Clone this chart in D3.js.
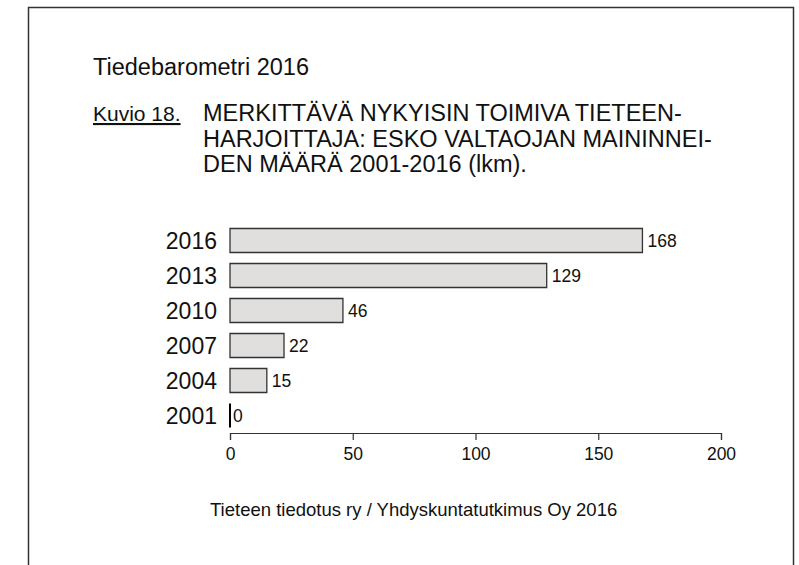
<!DOCTYPE html>
<html>
<head>
<meta charset="utf-8">
<script src="https://cdn.jsdelivr.net/npm/d3@7"></script>
<style>
  body { margin: 0; background: #fff; }
  svg text { font-family: "Liberation Sans", Arial, sans-serif; fill: #111; }
</style>
</head>
<body>
<svg id="chart" width="799" height="565"></svg>
<script>
// data
var years = ["2016", "2013", "2010", "2007", "2004", "2001"];
var counts = [168, 129, 46, 22, 15, 0];
var xTicks = [0, 50, 100, 150, 200];

var titleLines = [
	"MERKITTÄVÄ NYKYISIN TOIMIVA TIETEEN-",
	"HARJOITTAJA: ESKO VALTAOJAN MAININNEI-",
	"DEN MÄÄRÄ 2001-2016 (lkm)."
];

var svg = d3.select("#chart");

//frame round the page
svg.append("rect")
	.attr("x", 28.5)
	.attr("y", 7.5)
	.attr("width", 765)
	.attr("height", 600)
	.attr("fill", "none")
	.attr("stroke", "#333")
	.attr("stroke-width", 1.5);

svg.append("text")
	.attr("x", 93)
	.attr("y", 75)
	.attr("font-size", "23.5px")
	.text("Tiedebarometri 2016");

svg.append("text")
	.attr("x", 93)
	.attr("y", 121)
	.attr("font-size", "21px")
	.attr("text-decoration", "underline")
	.text("Kuvio 18.");

svg.selectAll(".head")
	.data(titleLines)
	.enter()
	.append("text")
	.attr("class", "head")
	.attr("x", 203)
	.attr("y", function (d, i) { return 121 + i * 25.5; })
	.attr("font-size", "23.5px")
	.text(function (d) { return d; });

var x = d3.scaleLinear().domain([0, 200]).range([230, 721]);
var y = d3.scaleBand().domain(years).range([223, 433]).paddingInner(0.314).paddingOuter(0.157);

//bars drawn as paths so the zero bar still shows its edge
svg.selectAll(".bar")
	.data(counts)
	.enter()
	.append("path")
	.attr("class", "bar")
	.attr("d", function (d, i) {
		var x0 = x(0), y0 = y(years[i]), w = x(d) - x(0), h = y.bandwidth();
		return "M" + x0 + "," + y0 + "h" + w + "v" + h + "h" + (-w) + "Z";
	})
	.attr("fill", "#e0dfde")
	.attr("stroke", function (d) { return d == 0 ? "#000" : "#333"; })
	.attr("stroke-width", function (d) { return d == 0 ? 2 : 1.3; });

//value labels next to the bars
svg.selectAll(".val")
	.data(counts)
	.enter()
	.append("text")
	.attr("class", "val")
	.attr("x", function (d) { return x(d) + (d == 0 ? 3 : 5); })
	.attr("y", function (d, i) { return y(years[i]) + y.bandwidth() / 2; })
	.attr("dy", "0.36em")
	.attr("font-size", "17.5px")
	.text(function (d) { return d; });

//year labels
svg.selectAll(".year")
	.data(years)
	.enter()
	.append("text")
	.attr("class", "year")
	.attr("x", 217)
	.attr("y", function (d) { return y(d) + y.bandwidth() / 2; })
	.attr("dy", "0.36em")
	.attr("text-anchor", "end")
	.attr("font-size", "23px")
	.text(function (d) { return d; });

var xAxis = svg.append("g")
	.attr("transform", "translate(0,433)")
	.call(d3.axisBottom(x).tickValues(xTicks).tickSize(7).tickPadding(8));

xAxis.select(".domain").attr("stroke", "#333").attr("stroke-width", 1.2);
xAxis.selectAll(".tick line").attr("stroke", "#333").attr("stroke-width", 1.2);
xAxis.selectAll(".tick text")
	.attr("font-size", "17.5px")
	.attr("font-family", "Liberation Sans, Arial, sans-serif")
	.attr("fill", "#111");

svg.append("text")
	.attr("x", 210)
	.attr("y", 516)
	.attr("font-size", "18.5px")
	.text("Tieteen tiedotus ry / Yhdyskuntatutkimus Oy 2016");
</script>
</body>
</html>
